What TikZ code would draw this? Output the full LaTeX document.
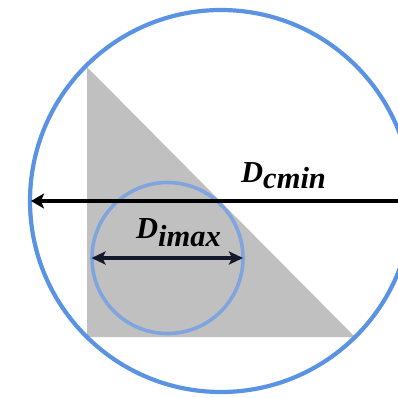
\documentclass[tikz,border=0pt]{standalone}
\usepackage{fontspec}
\setmainfont{Liberation Serif}
\usetikzlibrary{arrows.meta}
\definecolor{bigblue}{RGB}{91,147,227}
\definecolor{smallblue}{RGB}{128,165,222}
\definecolor{tri}{RGB}{192,192,192}
\definecolor{navy}{RGB}{20,26,44}
\tikzset{
  lbl/.style={anchor=base west, inner sep=0pt, font=\bfseries\itshape\fontsize{30.5}{32}\selectfont},
  bigarrow/.style={line width=3.6pt, black, -{Stealth[length=13pt,width=15pt,inset=3pt]}},
  smallarrow/.style={line width=3.4pt, navy, {Stealth[length=14pt,width=13pt,inset=3pt]}-{Stealth[length=14pt,width=13pt,inset=3pt]}}
}
\begin{document}
\begin{tikzpicture}[x=1pt,y=-1pt]
\useasboundingbox (0,0) rectangle (398,397);
\begin{scope}
\clip (0,0) rectangle (398,397);
\fill[tri] (87,67) coordinate (A) -- (87,337) coordinate (B) -- (355,337) coordinate (C) -- cycle;
\coordinate (O) at (221,201);
\draw[bigblue, line width=4.2pt] (O) circle[radius=191];
\coordinate (o) at (167.5,258);
\draw[smallblue, line width=3.6pt] (o) circle[radius=75.5];
\coordinate (R) at (402,201);
\coordinate (L) at (31,201);
\draw[bigarrow] (R) -- (L);
\coordinate (sl) at (91.5,258);
\coordinate (sr) at (243,258);
\draw[smallarrow] (sl) -- (sr);
\node[lbl] (dc) at (241,182) {D\raisebox{-6pt}{cmin}};
\node[lbl] (di) at (136,238) {D\raisebox{-8pt}{imax}};
\end{scope}
\end{tikzpicture}
\end{document}
